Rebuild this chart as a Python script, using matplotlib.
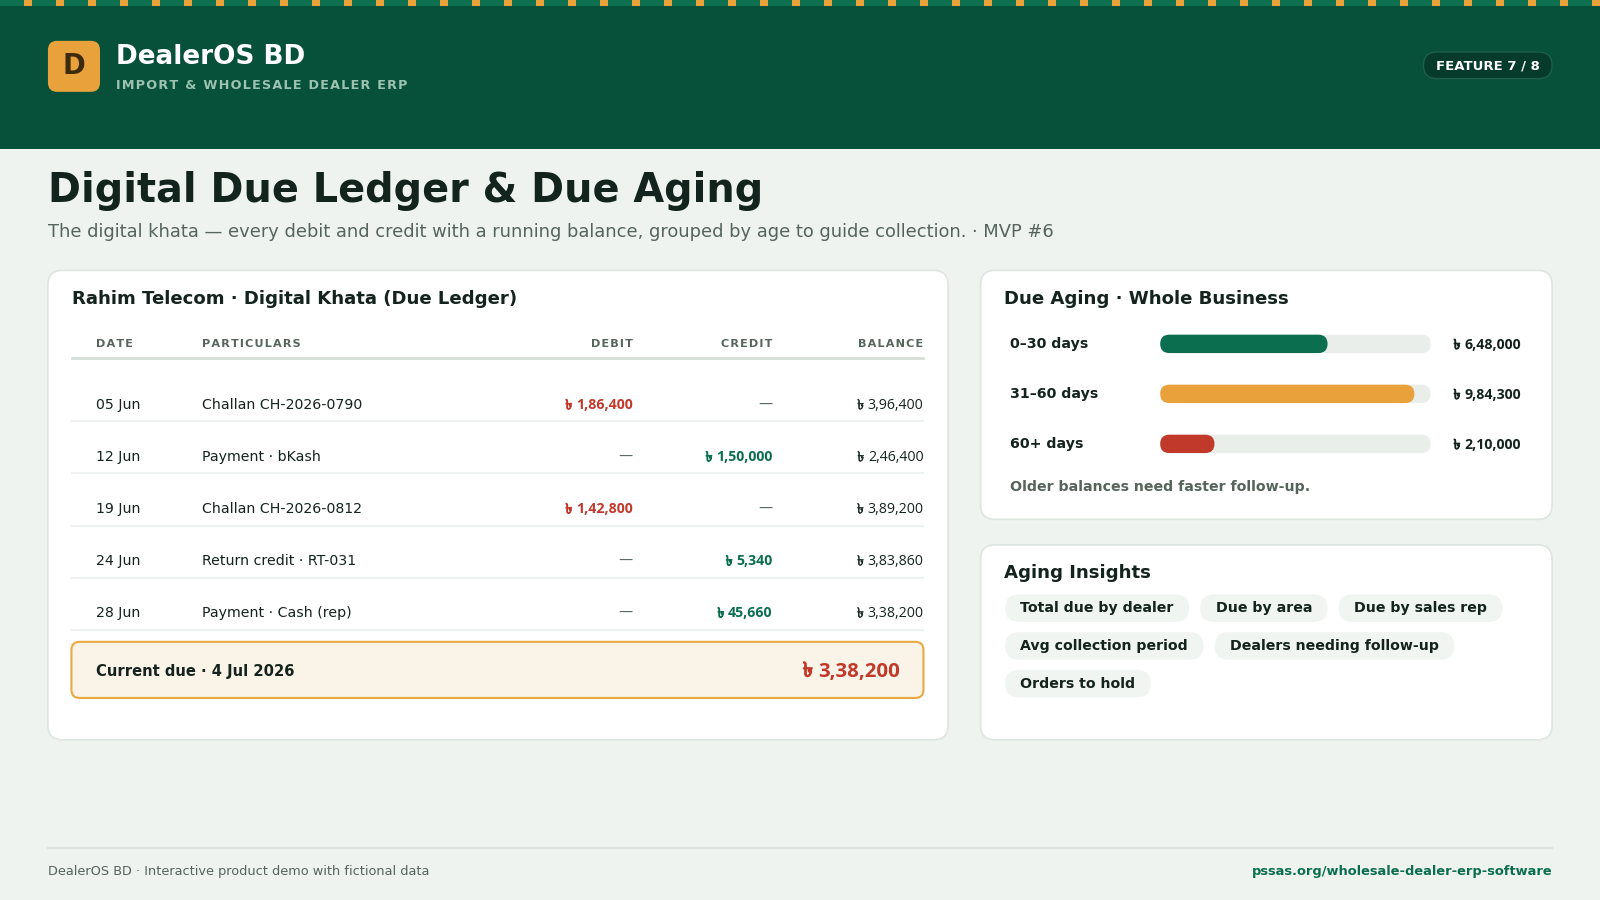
import numpy as np
import matplotlib
matplotlib.use('Agg')
import matplotlib.pyplot as plt
import matplotlib.patheffects as pe
from matplotlib import font_manager
from matplotlib.font_manager import FontProperties
from matplotlib.ft2font import FT2Font
from matplotlib.textpath import TextPath
from matplotlib.patches import FancyBboxPatch, Rectangle

# canvas units follow the reference picture (1568 x 882), saved at 1600 x 900
W, H = 1568, 882
S = 1600 / W * 0.72   # canvas px -> points

# ---- data ----
brand = 'DealerOS BD'
brand_sub = 'IMPORT & WHOLESALE DEALER ERP'
feature_tag = 'FEATURE 7 / 8'
title = 'Digital Due Ledger & Due Aging'
subtitle = ('The digital khata \u2014 every debit and credit with a running balance, '
            'grouped by age to guide collection. \u00b7 MVP #6')

ledger_title = 'Rahim Telecom \u00b7 Digital Khata (Due Ledger)'
columns = ['DATE', 'PARTICULARS', 'DEBIT', 'CREDIT', 'BALANCE']
dates = ['05 Jun', '12 Jun', '19 Jun', '24 Jun', '28 Jun']
particulars = ['Challan CH-2026-0790', 'Payment \u00b7 bKash', 'Challan CH-2026-0812',
               'Return credit \u00b7 RT-031', 'Payment \u00b7 Cash (rep)']
debits = [186400, None, 142800, None, None]
credits = [None, 150000, None, 5340, 45660]
balances = [396400, 246400, 389200, 383860, 338200]
current_due_label = 'Current due \u00b7 4 Jul 2026'
current_due = 338200

aging_title = 'Due Aging \u00b7 Whole Business'
aging_labels = ['0\u201330 days', '31\u201360 days', '60+ days']
aging_values = [648000, 984300, 210000]
aging_scale_max = 1047000
aging_note = 'Older balances need faster follow-up.'

insights_title = 'Aging Insights'
insights = ['Total due by dealer', 'Due by area', 'Due by sales rep',
            'Avg collection period', 'Dealers needing follow-up', 'Orders to hold']

footer_left = 'DealerOS BD \u00b7 Interactive product demo with fictional data'
footer_right = 'pssas.org/wholesale-dealer-erp-software'

# ---- colours ----
HEADER = '#07513b'
STRIPE = '#0d7050'
ORANGE = '#e9a23b'
BG = '#eef3ef'
INK = '#14231d'
MUTED = '#56645c'
RED = '#c0392b'
GREEN = '#0b6e4f'
EDGE = '#dde5df'

BASE = ['DejaVu Sans']
NUM = ['Open Sans', 'Noto Sans', 'DejaVu Sans']

# families that have the taka sign; prefer a sans one
cands = set()
for f in font_manager.fontManager.ttflist:
    try:
        if 0x09F3 in FT2Font(f.fname).get_charmap():
            cands.add(f.name)
    except Exception:
        pass
cands = sorted(cands)
TAKA_FONT = (next((n for n in cands if 'Bengali' in n), None)
             or next((n for n in cands if 'Sans' in n and 'Mono' not in n), None)
             or (cands[0] if cands else None))

if TAKA_FONT:
    ext = TextPath((0, 0), '\u09f3', size=100, prop=FontProperties(family=TAKA_FONT)).get_extents()
    SIGN_H, SIGN_W, SIGN_X0, SIGN_Y0 = ext.height / 100, ext.width / 100, ext.x0 / 100, ext.y0 / 100


def indian(v):
    s = str(v)
    if len(s) > 3:
        head, tail = s[:-3], s[-3:]
        groups = []
        while len(head) > 2:
            groups.insert(0, head[-2:])
            head = head[:-2]
        if head:
            groups.insert(0, head)
        s = ','.join(groups + [tail])
    return s


def spaced(s):
    return '\u200a'.join(s)


fig = plt.figure(figsize=(16, 9), dpi=100, facecolor=BG)
ax = fig.add_axes([0, 0, 1, 1])
ax.set_xlim(0, W)
ax.set_ylim(H, 0)
ax.axis('off')
renderer = fig.canvas.get_renderer()


def rbox(x0, y0, x1, y1, r, fc, ec='none', lw=0, z=1):
    p = FancyBboxPatch((x0, y0), x1 - x0, y1 - y0,
                       boxstyle=f'round,pad=0,rounding_size={r}',
                       fc=fc, ec=ec, lw=lw, zorder=z)
    ax.add_patch(p)


def txt(x, y, s, size, color=INK, weight='normal', ha='left', family=None, va='center', z=5):
    return ax.text(x, y, s, fontsize=size * S, color=color, fontweight=weight,
                   ha=ha, va=va, family=family or BASE, zorder=z)


def width_of(t):
    return t.get_window_extent(renderer=renderer).width * W / 1600


def taka_sign(x, base, size, color, weight):
    # x: left edge of the ink, base: baseline; returns ink width
    cap = 0.714 * size
    if TAKA_FONT:
        em = cap / SIGN_H
        t = ax.text(x - SIGN_X0 * em, base + SIGN_Y0 * em, '\u09f3', fontsize=em * S,
                    color=color, family=[TAKA_FONT], ha='left', va='baseline', zorder=5)
        grow = (0.07 if weight == 'bold' else 0.025) * size * S
        t.set_path_effects([pe.withStroke(linewidth=grow, foreground=color)])
        return SIGN_W * em
    # no installed family has the sign: draw it
    lw = (0.12 if weight == 'bold' else 0.085) * size * S
    stem = np.array([(0.03, 0.60), (0.06, 0.68), (0.12, 0.71), (0.17, 0.67),
                     (0.18, 0.60), (0.18, 0.12), (0.21, 0.03), (0.29, 0.0),
                     (0.38, 0.03), (0.43, 0.13), (0.42, 0.26), (0.35, 0.33),
                     (0.26, 0.33)])
    bar = np.array([(0.03, 0.47), (0.33, 0.47)])
    for pts in (stem, bar):
        ax.plot(x + pts[:, 0] * size, base - pts[:, 1] * size, color=color, lw=lw,
                solid_capstyle='round', solid_joinstyle='round', zorder=5)
    return 0.45 * size


def sign_width(size):
    if TAKA_FONT:
        return SIGN_W * 0.714 * size / SIGN_H
    return 0.45 * size


def taka(x, y, v, size, color, weight='normal', ha='left'):
    base = y + 0.3 * size
    gap = 0.3 * size
    if ha == 'right':
        t = txt(x, base, indian(v), size, color, weight, 'right', family=NUM, va='baseline')
        taka_sign(x - width_of(t) - gap - sign_width(size), base, size, color, weight)
    else:
        sw = taka_sign(x, base, size, color, weight)
        t = txt(x + sw + gap, base, indian(v), size, color, weight, 'left', family=NUM, va='baseline')
    return t


# header band + dashed stripe
ax.add_patch(Rectangle((0, 0), W, 146, fc=HEADER, ec='none', zorder=1))
ax.add_patch(Rectangle((0, 0), W, 6, fc=STRIPE, ec='none', zorder=2))
for x in np.arange(24, 1600, 32) * W / 1600:
    ax.add_patch(Rectangle((x, 0), 8 * W / 1600, 6, fc=ORANGE, ec='none', zorder=3))

rbox(47, 40, 98, 90, 9, ORANGE, z=2)
txt(72.5, 65, 'D', 27, '#3d2a0a', 'bold', ha='center')
txt(114, 56, brand, 25.7, 'white', 'bold')
txt(114, 84, spaced(brand_sub), 12.5, '#9cc3b1', 'bold')

rbox(1395, 51, 1521, 77, 13, '#063b2b', ec='#1f5f48', lw=1, z=2)
txt(1458, 64.5, feature_tag, 13, 'white', 'bold', ha='center')

# title
txt(47, 187, title, 39, '#13231d', 'bold')
txt(47, 227, subtitle, 17.5, MUTED)

# ---- ledger card ----
rbox(47, 265, 929, 725, 14, 'white', ec=EDGE, lw=1.2)
txt(71, 293, ledger_title, 17.8, INK, 'bold')

col_x = [94, 198, 620, 757, 905]
col_ha = ['left', 'left', 'right', 'right', 'right']
for name, x, ha in zip(columns, col_x, col_ha):
    txt(x, 337, spaced(name), 11, MUTED, 'bold', ha=ha)
ax.plot([71, 905], [351, 351], color='#d6ded8', lw=2, zorder=3)

row_y0, row_step = 397, 51
for i in range(len(dates)):
    y = row_y0 + i * row_step
    txt(col_x[0], y, dates[i], 13.8, INK)
    txt(col_x[1], y, particulars[i], 13.8, INK)
    if debits[i] is None:
        txt(col_x[2], y, '\u2014', 13.8, MUTED, ha='right')
    else:
        taka(col_x[2], y, debits[i], 13.8, RED, 'bold', ha='right')
    if credits[i] is None:
        txt(col_x[3], y, '\u2014', 13.8, MUTED, ha='right')
    else:
        taka(col_x[3], y, credits[i], 13.8, GREEN, 'bold', ha='right')
    taka(col_x[4], y, balances[i], 13.8, INK, ha='right')
    ax.plot([71, 905], [y + 16, y + 16], color='#eef2ef', lw=1.5, zorder=3)

rbox(70, 629, 905, 684, 8, '#faf4e8', ec='#eaa843', lw=1.5, z=2)
txt(94, 658, current_due_label, 14.5, INK, 'bold')
taka(882, 657, current_due, 20, RED, 'bold', ha='right')

# ---- due aging card ----
rbox(961, 265, 1521, 509, 14, 'white', ec=EDGE, lw=1.2)
txt(984, 293, aging_title, 17.8, INK, 'bold')

bar_y0, bar_step = 337, 49
for i, (lab, val) in enumerate(zip(aging_labels, aging_values)):
    y = bar_y0 + i * bar_step
    txt(990, y, lab, 13.9, INK, 'bold')
    taka(1425, y + 1, val, 13.8, INK, 'bold')

track_x0, track_x1 = 1137, 1402
track_w = track_x1 - track_x0
bax = fig.add_axes([track_x0 / W, 1 - (bar_y0 + 2.5 * bar_step) / H,
                    track_w / W, 3 * bar_step / H])
bax.set_xlim(0, aging_scale_max)
bax.set_ylim(2.5, -0.5)
bax.axis('off')
bar_h = 18 / bar_step
m_aspect = (1 / bar_step) / (aging_scale_max / track_w)
r_units = 9 * aging_scale_max / track_w
bar_colors = [GREEN, ORANGE, RED]
for i, val in enumerate(aging_values):
    for width, c in [(aging_scale_max, '#e9eeea'), (val, bar_colors[i])]:
        bax.add_patch(FancyBboxPatch((0, i - bar_h / 2), width, bar_h,
                                     boxstyle=f'round,pad=0,rounding_size={r_units}',
                                     mutation_aspect=m_aspect, fc=c, ec='none'))

txt(990, 477, aging_note, 13.9, MUTED, 'bold')

# ---- insights card ----
rbox(961, 534, 1521, 725, 14, 'white', ec=EDGE, lw=1.2)
txt(984, 562, insights_title, 17.8, INK, 'bold')

chip_x, chip_y = 985, 596
chip_pad, chip_gap, chip_h, chip_row = 15, 11, 27, 37
for label in insights:
    t = txt(0, chip_y, label, 13.8, INK, 'bold', ha='center')
    cw = width_of(t) + 2 * chip_pad
    if chip_x + cw > 1497:
        chip_x = 985
        chip_y += chip_row
        t.set_y(chip_y)
    t.set_x(chip_x + cw / 2)
    rbox(chip_x, chip_y - chip_h / 2, chip_x + cw, chip_y + chip_h / 2, chip_h / 2, '#f1f5f2', z=2)
    chip_x += cw + chip_gap

# ---- footer ----
ax.plot([47, 1521], [831, 831], color='#dce3de', lw=1.5, zorder=2)
txt(47, 854, footer_left, 12.6, MUTED)
txt(1521, 854, footer_right, 12.8, GREEN, 'bold', ha='right')

fig.savefig('out.png', dpi=100, facecolor=BG)
